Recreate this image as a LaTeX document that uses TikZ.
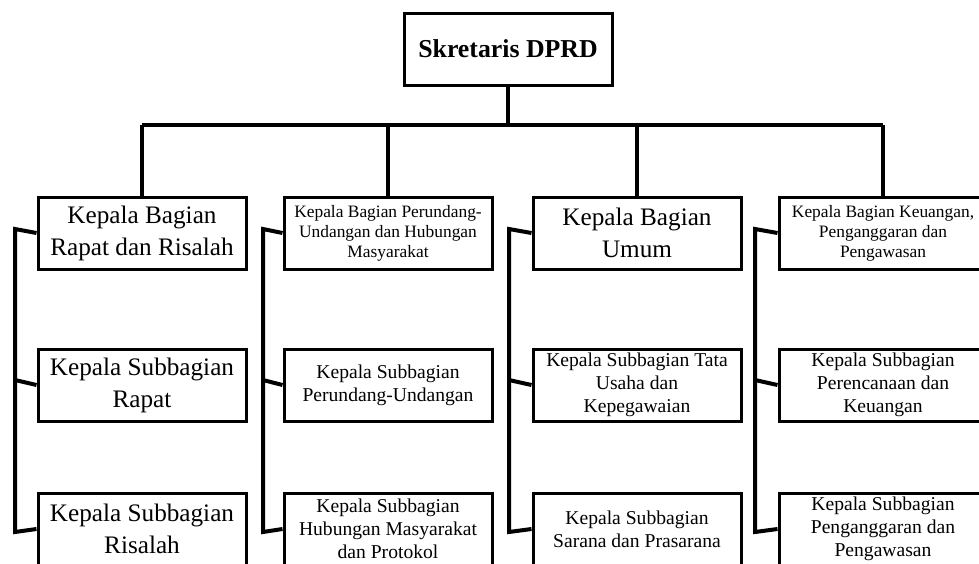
\documentclass[tikz,border=0pt]{standalone}
\usepackage{fontspec}
\setmainfont{Liberation Serif}
\begin{document}
\begin{tikzpicture}[x=0.5pt, y=-0.5pt, line width=2pt, main node/.style={draw,line width=1.5pt,minimum width=104pt,minimum height=36pt,inner sep=1pt,align=center},big/.style={font=\fontsize{12.6}{16}\selectfont},small/.style={font=\fontsize{8.7}{10}\selectfont},mid/.style={font=\fontsize{9.8}{11.4}\selectfont}]
\useasboundingbox (0,0) rectangle (979,563);
\clip (0,0) rectangle (979,563);
\begin{scope}
\node[main node, font=\fontsize{12.9}{16}\selectfont\bfseries] (sek) at (508,49) {Skretaris DPRD};
\node[main node, big] (b1) at (142,233) {Kepala Bagian\\Rapat dan Risalah};
\node[main node, small] (b2) at (388,233) {Kepala Bagian Perundang-\\Undangan dan Hubungan\\Masyarakat};
\node[main node, big] (b3) at (637,233) {Kepala Bagian\\Umum};
\node[main node, small] (b4) at (883,233) {Kepala Bagian Keuangan,\\Penganggaran dan\\Pengawasan};
\node[main node, big] (s1a) at (142,385) {Kepala Subbagian\\Rapat};
\node[main node, mid] (s2a) at (388,385) {Kepala Subbagian\\Perundang-Undangan};
\node[main node, mid] (s3a) at (637,385) {Kepala Subbagian Tata\\Usaha dan\\Kepegawaian};
\node[main node, mid] (s4a) at (883,385) {Kepala Subbagian\\Perencanaan dan\\Keuangan};
\node[main node, big] (s1b) at (142,529) {Kepala Subbagian\\Risalah};
\node[main node, mid] (s2b) at (388,529) {Kepala Subbagian\\Hubungan Masyarakat\\dan Protokol};
\node[main node, mid] (s3b) at (637,529) {Kepala Subbagian\\Sarana dan Prasarana};
\node[main node, mid] (s4b) at (883,529) {Kepala Subbagian\\Penganggaran dan\\Pengawasan};
%\node[main node] (s) at (,) {};
\end{scope}
\coordinate (bar) at (508,125);
\coordinate (barl) at (142,125);
\coordinate (barr) at (883,125);
\coordinate (c1t) at (15,229);  \coordinate (c1m) at (15,380);  \coordinate (c1b) at (15,532);
\coordinate (c2t) at (263,229); \coordinate (c2m) at (263,380); \coordinate (c2b) at (263,532);
\coordinate (c3t) at (509,229); \coordinate (c3m) at (509,380); \coordinate (c3b) at (509,532);
\coordinate (c4t) at (755,229); \coordinate (c4m) at (755,380); \coordinate (c4b) at (755,532);
\begin{scope}
\draw (sek) -- (bar);
\draw (barl) -- (barr);
\draw (b1.north |- bar) -- (b1);
\draw (b2.north |- bar) -- (b2);
\draw (b3.north |- bar) -- (b3);
\draw (b4.north |- bar) -- (b4);
\draw (b1.west) -- (c1t) -- (c1b) -- (s1b.west);
\draw (c1m) -- (s1a.west);
\draw (b2.west) -- (c2t) -- (c2b) -- (s2b.west);
\draw (c2m) -- (s2a.west);
\draw (b3.west) -- (c3t) -- (c3b) -- (s3b.west);
\draw (c3m) -- (s3a.west);
\draw (b4.west) -- (c4t) -- (c4b) -- (s4b.west);
\draw (c4m) -- (s4a.west);
%\draw (c) -- (s);
\end{scope}
\end{tikzpicture}
\end{document}
